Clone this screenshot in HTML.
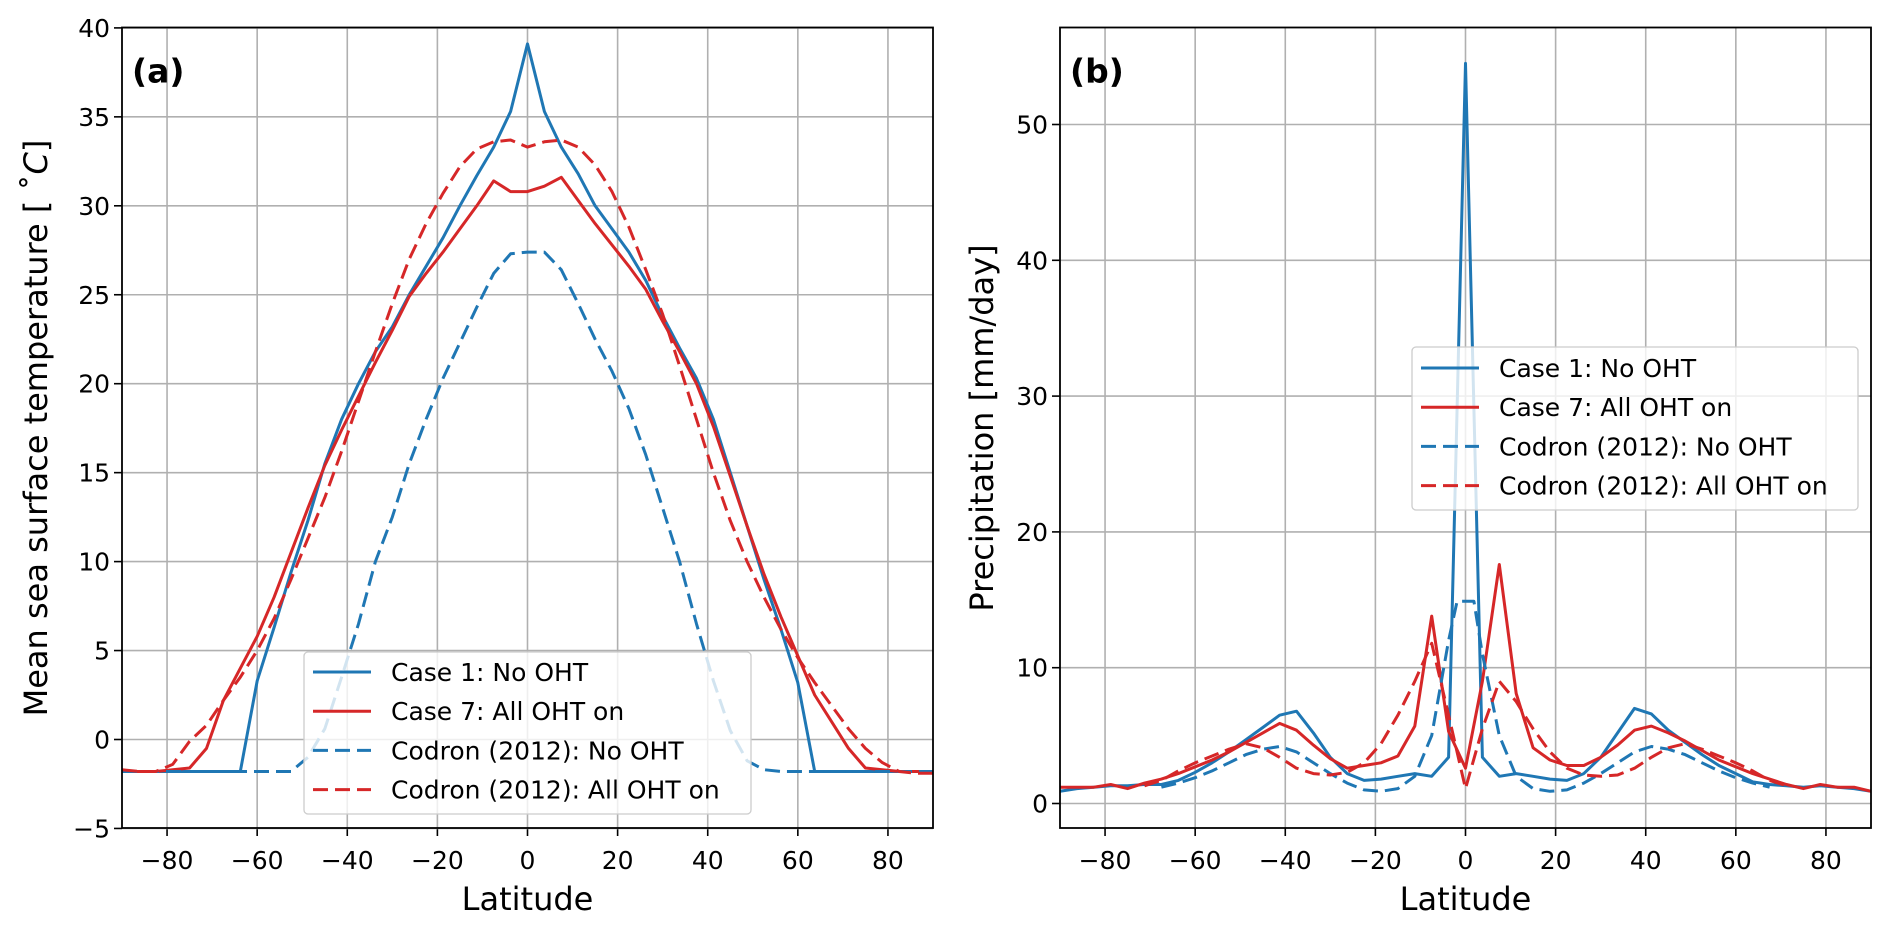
<!DOCTYPE html>
<html><head><meta charset="utf-8"><style>
html,body{margin:0;padding:0;background:#fff;}
svg{display:block;font-family:"DejaVu Sans","Liberation Sans",sans-serif;}
</style></head><body>
<svg id="fig" width="1892" height="929" viewBox="0 0 1892 929" xmlns="http://www.w3.org/2000/svg">
<g id="pa"></g>
<g id="pb"></g>
</svg>
<script>
const latTicks = [-80,-60,-40,-20,0,20,40,60,80];
const sstTicks = [-5,0,5,10,15,20,25,30,35,40];
const preTicks = [0,10,20,30,40,50];
const lats = [-90,-86.25,-82.5,-78.75,-75,-71.25,-67.5,-63.75,-60,-56.25,-52.5,-48.75,-45,-41.25,-37.5,-33.75,-30,-26.25,-22.5,-18.75,-15,-11.25,-7.5,-3.75,0,3.75,7.5,11.25,15,18.75,22.5,26.25,30,33.75,37.5,41.25,45,48.75,52.5,56.25,60,63.75,67.5,71.25,75,78.75,82.5,86.25,90];
const sstCase1 = [-1.8,-1.8,-1.8,-1.8,-1.8,-1.8,-1.8,-1.8,3.3,6.3,9.4,12.3,15.5,18.0,20.0,21.8,23.2,25.0,26.6,28.2,30.0,31.7,33.3,35.3,39.1,35.3,33.3,31.8,30.0,28.7,27.4,25.8,23.8,22.0,20.3,18.0,15.0,12.0,9.0,6.2,3.2,-1.8,-1.8,-1.8,-1.8,-1.8,-1.8,-1.8,-1.8];
const sstCase7 = [-1.8,-1.8,-1.8,-1.7,-1.6,-0.5,2.2,4.0,5.8,8.0,10.5,13.0,15.4,17.4,19.3,21.2,23.0,24.9,26.2,27.4,28.7,30.0,31.4,30.8,30.8,31.1,31.6,30.3,29.0,27.8,26.6,25.3,23.5,21.8,20.0,17.6,14.8,12.0,9.3,6.9,4.7,2.5,1.0,-0.5,-1.6,-1.7,-1.8,-1.8,-1.8];
const sstCodronNo = [-1.8,-1.8,-1.8,-1.8,-1.8,-1.8,-1.8,-1.8,-1.8,-1.8,-1.8,-1.0,0.6,3.5,6.5,10.0,12.5,15.5,18.0,20.3,22.3,24.3,26.2,27.3,27.4,27.4,26.4,24.5,22.5,20.7,18.6,16.0,13.0,10.0,6.5,3.3,0.5,-1.2,-1.7,-1.8,-1.8,-1.8,-1.8,-1.8,-1.8,-1.8,-1.8,-1.8,-1.8];
const sstCodronAll = [-1.7,-1.8,-1.8,-1.4,-0.1,0.8,2.2,3.5,5.0,6.8,9.0,11.3,13.6,16.2,19.0,21.8,24.5,27.0,29.0,30.7,32.2,33.2,33.6,33.7,33.3,33.6,33.7,33.3,32.3,30.8,28.8,26.4,23.9,21.0,18.0,15.0,12.3,10.0,8.0,6.2,4.6,3.2,1.9,0.6,-0.5,-1.3,-1.8,-1.9,-1.9];
const preCase1 = [0.9,1.1,1.2,1.3,1.3,1.4,1.4,1.7,2.3,3.0,3.8,4.7,5.6,6.5,6.8,5.2,3.4,2.2,1.7,1.8,2.0,2.2,2.0,3.4,54.5,3.4,2.0,2.2,2.0,1.8,1.7,2.2,3.4,5.2,7.0,6.6,5.4,4.5,3.6,2.8,2.2,1.6,1.4,1.3,1.2,1.3,1.2,1.1,0.9];
const preCase7 = [1.2,1.2,1.2,1.4,1.1,1.5,1.8,2.2,2.7,3.2,3.8,4.5,5.2,5.9,5.4,4.3,3.3,2.6,2.8,3.0,3.5,5.7,13.8,5.3,2.6,9.0,17.6,8.1,4.1,3.2,2.8,2.8,3.4,4.3,5.4,5.7,5.2,4.6,3.9,3.2,2.7,2.2,1.8,1.4,1.1,1.4,1.2,1.2,0.9];
const codronLatsNo = [-67.5,-63.75,-60,-56.25,-52.5,-48.75,-45,-41.25,-37.5,-33.75,-30,-26.25,-22.5,-18.75,-15,-11.25,-7.5,-3.75,-1.875,1.875,3.75,7.5,11.25,15,18.75,22.5,26.25,30,33.75,37.5,41.25,45,48.75,52.5,56.25,60,63.75,67.5];
const preCodronNo = [1.2,1.5,1.9,2.4,3.0,3.6,4.0,4.2,3.8,3.0,2.2,1.5,1.0,0.9,1.1,2.0,5.0,12.0,14.9,14.9,11.0,5.0,2.0,1.1,0.9,1.0,1.5,2.2,3.0,3.8,4.2,4.0,3.6,3.0,2.4,1.9,1.5,1.2];
const codronLatsAll = [-71.25,-67.5,-63.75,-60,-56.25,-52.5,-48.75,-45,-41.25,-37.5,-33.75,-30,-26.25,-22.5,-18.75,-15,-11.25,-7.5,-3.75,0,3.75,7.5,11.25,15,18.75,22.5,26.25,30,33.75,37.5,41.25,45,48.75,52.5,56.25,60,63.75,67.5,71.25];
const preCodronAll = [1.3,1.7,2.4,3.0,3.5,4.0,4.4,4.1,3.4,2.6,2.2,2.1,2.3,3.0,4.4,6.5,9.0,11.8,6.5,1.1,5.5,9.0,7.5,5.5,3.8,2.6,2.1,2.0,2.1,2.6,3.4,4.1,4.4,4.0,3.5,3.0,2.4,1.7,1.3];

const NS='http://www.w3.org/2000/svg';
const BLUE='#1f77b4', RED='#d62728';
function mk(parent, tag, attrs){const e=document.createElementNS(NS,tag);for(const k in attrs)e.setAttribute(k,attrs[k]);parent.appendChild(e);return e;}

function panel(g, cfg){
  const L=cfg.L,R=cfg.R,T=27.5,B=828;
  const xs=v=>L+(v+90)/180*(R-L);
  const ys=v=>cfg.y0+(v-cfg.v0)*cfg.k;
  mk(g,'rect',{x:L,y:T,width:R-L,height:B-T,fill:'#fff'});
  latTicks.forEach(t=>{
    const l=mk(g,'line',{x1:xs(t),x2:xs(t),y1:T,y2:B,stroke:'#b0b0b0','stroke-width':1.6});
    
    
    mk(g,'line',{x1:xs(t),x2:xs(t),y1:B,y2:B+8,stroke:'#000','stroke-width':1.6});
    const tx=mk(g,'text',{x:xs(t),y:B+41,'text-anchor':'middle','font-size':25});
    tx.textContent=(t<0?'\u2212'+(-t):t);
    
    
  });
  cfg.ticks.forEach(t=>{
    const y=ys(t);
    const l=mk(g,'line',{x1:L,x2:R,y1:y,y2:y,stroke:'#b0b0b0','stroke-width':1.6});
    
    
    mk(g,'line',{x1:L-8,x2:L,y1:y,y2:y,stroke:'#000','stroke-width':1.6});
    const tx=mk(g,'text',{x:L-12,y:y+9,'text-anchor':'end','font-size':25});
    tx.textContent=(t<0?'\u2212'+(-t):t);
    
    
  });
  const cp=mk(g,'clipPath',{id:'clip'+cfg.id});
  mk(cp,'rect',{x:L,y:T,width:R-L,height:B-T});
  cfg.series.forEach(s=>{
    const pts=s.x.map((v,i)=>xs(v).toFixed(1)+','+ys(s.y[i]).toFixed(1)).join(' ');
    const p=mk(g,'polyline',{points:pts,fill:'none',stroke:s.c,'stroke-width':3,'stroke-linejoin':'round','clip-path':'url(#clip'+cfg.id+')'});
    if(s.d) p.setAttribute('stroke-dasharray','15,7');
    
    
  });
  mk(g,'rect',{x:L,y:T,width:R-L,height:B-T,fill:'none',stroke:'#000','stroke-width':1.8});
  const lab=mk(g,'text',{x:L+10,y:T+55,'font-size':33,'font-weight':'bold'});
  lab.textContent=cfg.label;
  
  
  const xl=mk(g,'text',{x:(L+R)/2,y:910,'text-anchor':'middle','font-size':32});
  xl.textContent='Latitude';
  
  
  const yl=mk(g,'text',{x:0,y:0,'text-anchor':'middle','font-size':32,transform:'translate('+cfg.ylx+',428) rotate(-90)'});
  yl.innerHTML=cfg.ytitle;
  
  
  const lg=cfg.leg;
  const lgg=mk(g,'g',{});
  
  
  mk(lgg,'rect',{x:lg.x,y:lg.y,width:lg.w,height:lg.h,rx:4,fill:'#fff','fill-opacity':0.8,stroke:'#ccc','stroke-width':1.3});
  cfg.series.forEach((s,i)=>{
    const y=lg.y+lg.first+i*39.2;
    const ln=mk(lgg,'line',{x1:lg.x+9,x2:lg.x+67,y1:y,y2:y,stroke:s.c,'stroke-width':3});
    if(s.d) ln.setAttribute('stroke-dasharray','15,7');
    const t=mk(lgg,'text',{x:lg.x+87,y:y+9,'font-size':25});
    t.textContent=s.lab;
    
    
  });
}
const labs=['Case 1: No OHT','Case 7: All OHT on','Codron (2012): No OHT','Codron (2012): All OHT on'];
panel(document.getElementById('pa'),{id:'a',L:122,R:933,y0:739.5,v0:0,k:-17.79,ticks:sstTicks,label:'(a)',ylx:47,
  ytitle:'Mean sea surface temperature [ \u02da<tspan font-style="italic">C</tspan>]',
  leg:{x:304,y:652,w:447,h:162,first:20},
  series:[{x:lats,y:sstCase1,c:BLUE,name:'line-case1',lab:labs[0]},{x:lats,y:sstCase7,c:RED,name:'line-case7',lab:labs[1]},
          {x:lats,y:sstCodronNo,c:BLUE,d:1,name:'line-codron-no-oht',lab:labs[2]},{x:lats,y:sstCodronAll,c:RED,d:1,name:'line-codron-all-oht',lab:labs[3]}]});
panel(document.getElementById('pb'),{id:'b',L:1060,R:1871,y0:803.5,v0:0,k:-13.58,ticks:preTicks,label:'(b)',ylx:993,
  ytitle:'Precipitation [mm/day]',
  leg:{x:1412,y:347,w:446,h:163,first:21},
  series:[{x:lats,y:preCase1,c:BLUE,name:'line-case1',lab:labs[0]},{x:lats,y:preCase7,c:RED,name:'line-case7',lab:labs[1]},
          {x:codronLatsNo,y:preCodronNo,c:BLUE,d:1,name:'line-codron-no-oht',lab:labs[2]},{x:codronLatsAll,y:preCodronAll,c:RED,d:1,name:'line-codron-all-oht',lab:labs[3]}]});
</script>
</body></html>
